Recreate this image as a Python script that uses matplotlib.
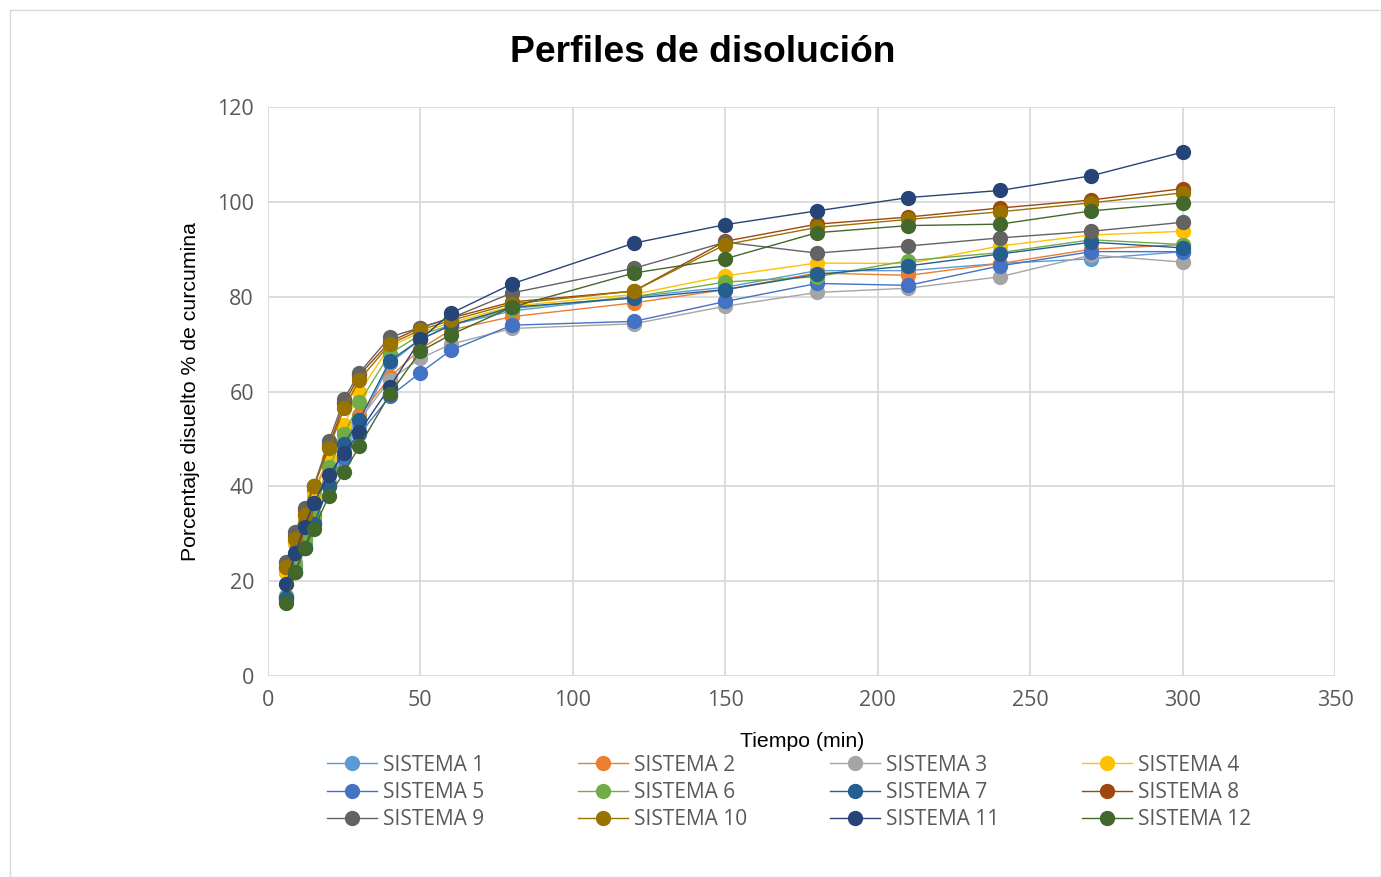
import numpy as np
import matplotlib
matplotlib.use("Agg")
import matplotlib.pyplot as plt
from matplotlib.patches import Rectangle

# tiempos de muestreo (min)
tiempo = [6, 9, 12, 15, 20, 25, 30, 40, 50, 60, 80, 120, 150, 180, 210, 240, 270, 300]

# porcentaje disuelto por sistema
s1 = [16.5, 23, 28, 33, 40, 47, 53, 66, 71, 74, 77, 80, 82, 85.5, 85.5, 87, 88, 89.5]
s2 = [22, 28, 34, 39, 46, 52, 55, 63, 69, 73, 75.8, 78.7, 81.5, 85, 84.5, 87, 90, 91]
s3 = [17, 24, 29, 34, 41, 48, 54, 62.5, 67, 70, 73.3, 74.3, 78, 80.9, 81.8, 84.2, 88.8, 87.3]
s4 = [22, 28, 33, 38, 46, 53, 60, 69.5, 72.5, 74.5, 78, 80.5, 84.4, 87.1, 87, 90.7, 93, 93.8]
s5 = [16, 22, 27, 32, 40, 46, 51, 59, 64, 68.7, 74, 74.8, 79, 82.8, 82.4, 86.5, 89.5, 89.5]
s6 = [17, 23.5, 29, 34, 44, 51, 57.7, 68, 72, 74, 77.5, 80, 83.1, 84.2, 87.6, 89.3, 92, 91]
s7 = [16.5, 22, 27, 32, 40, 49, 54, 66.5, 71, 74, 77.8, 79.7, 81.5, 84.7, 86.5, 89, 91.5, 90.3]
s8 = [23, 29.5, 35, 40, 48.5, 57.5, 63.5, 70.5, 73.5, 75.5, 78.9, 81.2, 91.7, 95.3, 96.8, 98.7, 100.4, 102.8]
s9 = [24, 30.5, 35.5, 40, 49.5, 58.5, 64, 71.5, 73.5, 75.5, 80.8, 86, 91.5, 89.2, 90.7, 92.4, 93.8, 95.7]
s10 = [23, 29, 34, 40, 48, 56.5, 62.5, 70, 73, 75, 78.5, 81.2, 91, 94.6, 96.3, 97.9, 99.8, 101.9]
s11 = [19.5, 26, 31.5, 36.5, 42.5, 47, 51.5, 61, 71, 76.5, 82.7, 91.3, 95.2, 98.1, 100.9, 102.4, 105.5, 110.5]
s12 = [15.5, 22, 27, 31, 38, 43, 48.5, 59.5, 68.5, 72, 77.8, 85, 88, 93.5, 95, 95.3, 98.1, 99.8]

series = [s1, s2, s3, s4, s5, s6, s7, s8, s9, s10, s11, s12]
nombres = ["SISTEMA %d" % (i + 1) for i in range(12)]
colores = ["#5B9BD5", "#ED7D31", "#A5A5A5", "#FFC000", "#4472C4", "#70AD47",
           "#255E91", "#9E480E", "#636363", "#997300", "#264478", "#43682B"]

plt.rcParams['font.family'] = ['Liberation Sans', 'DejaVu Sans']

fig = plt.figure(figsize=(13.81, 8.77), dpi=100)
ax = fig.add_axes([0.194, 0.229, 0.773, 0.649])

lineas = []
for y, nom, col in zip(series, nombres, colores):
    l, = ax.plot(tiempo, y, color=col, linewidth=1.0, marker="o",
                 markersize=10, label=nom, zorder=3)
    lineas.append(l)

ax.set_xlim(0, 350)
ax.set_ylim(0, 120)
ax.set_xticks(np.arange(0, 351, 50))
ax.set_yticks(np.arange(0, 121, 20))
ax.grid(True, color="#D9D9D9", linewidth=1.3, zorder=0)
ax.set_axisbelow(True)
for s in ax.spines.values():
    s.set_visible(False)
ax.tick_params(length=0, labelsize=15.5, labelcolor="#595959", pad=10)
for lab in ax.get_xticklabels() + ax.get_yticklabels():
    lab.set_family(['Open Sans', 'DejaVu Sans'])

fig.text(0.509, 0.940, "Perfiles de disolución", ha="center", va="center",
         fontsize=26.8, fontweight="bold")
fig.text(0.138, 0.553, "Porcentaje disuelto % de curcumina", rotation=90,
         ha="center", va="center", fontsize=15.3)
fig.text(0.581, 0.154, "Tiempo (min)", ha="center", va="center", fontsize=15.3)

# leyenda en 4 columnas, una por fila de la original
col_x = [0.2368, 0.4185, 0.601, 0.7835]
for c in range(4):
    idx = [c, c + 4, c + 8]
    leg = fig.legend([lineas[i] for i in idx], [nombres[i] for i in idx],
                     loc="upper left", bbox_to_anchor=(col_x[c], 0.1395),
                     frameon=False, fontsize=15, handlelength=2.4,
                     labelspacing=0.3, handletextpad=0.3,
                     borderpad=0, borderaxespad=0)
    for t in leg.get_texts():
        t.set_color("#595959")
        t.set_family(['Open Sans', 'DejaVu Sans'])
    for h in leg.legend_handles:
        h.set_markersize(10)

fig.patches.append(Rectangle((0.007, 0.0), 0.993, 0.989, transform=fig.transFigure,
                             fill=False, edgecolor="#D9D9D9", linewidth=1))

plt.savefig("out.png", dpi=100)
